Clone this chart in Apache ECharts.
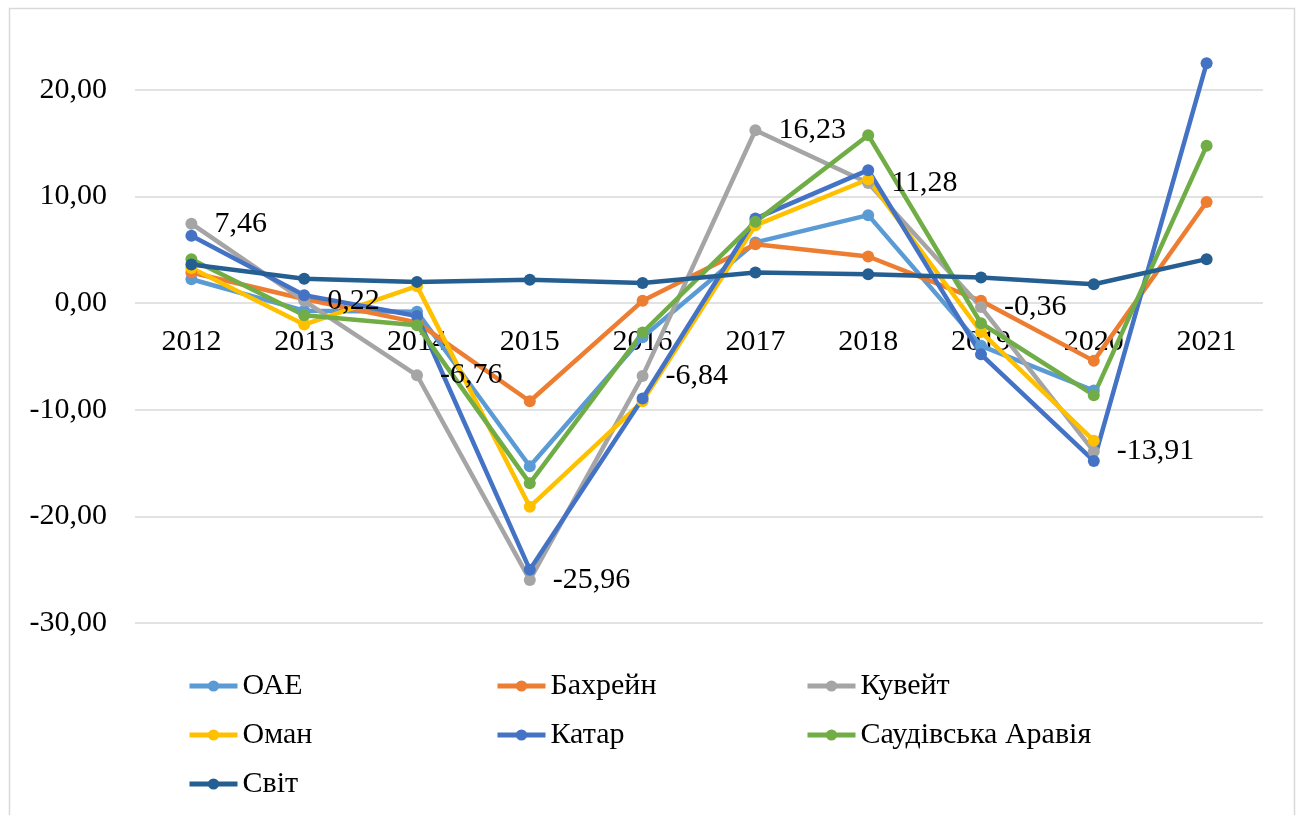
<!DOCTYPE html>
<html>
<head>
<meta charset="utf-8">
<script src="https://cdn.jsdelivr.net/npm/echarts@6/dist/echarts.min.js"></script>
<style>
  html, body { margin: 0; padding: 0; background: #fff; }
  #chart { width: 1299px; height: 815px; }
</style>
</head>
<body>
<div id="chart"></div>
<script>
// роки
const years = ['2012', '2013', '2014', '2015', '2016', '2017', '2018', '2019', '2020', '2021'];

// значення по країнах
const oae = [2.25, -0.7, -0.8, -15.3, -3.2, 5.7, 8.26, -4.0, -8.2, null];
const bahrain = [2.88, 0.4, -1.8, -9.2, 0.22, 5.53, 4.38, 0.22, -5.41, 9.5];
const kuwait = [7.46, 0.22, -6.76, -25.96, -6.84, 16.23, 11.28, -0.36, -13.91, null];
const oman = [3.3, -2.0, 1.6, -19.1, -9.2, 7.3, 11.63, -2.7, -12.9, null];
const qatar = [6.32, 0.75, -1.2, -25.0, -8.94, 7.94, 12.48, -4.8, -14.8, 22.5];
const saudi = [4.13, -1.13, -2.06, -16.9, -2.75, 7.63, 15.76, -1.88, -8.63, 14.76];
const world = [3.63, 2.3, 2.0, 2.19, 1.9, 2.88, 2.72, 2.41, 1.78, 4.13];

const names = ['ОАЕ', 'Бахрейн', 'Кувейт', 'Оман', 'Катар', 'Саудівська Аравія', 'Світ'];
const colors = ['#5B9BD5', '#ED7D31', '#A5A5A5', '#FFC000', '#4472C4', '#70AD47', '#255E91'];
const seriesData = [oae, bahrain, kuwait, oman, qatar, saudi, world];

const font = 'Liberation Serif';
const legendFont = 'Liberation Serif, DejaVu Serif';

function fmt(v) {
  return Number(v).toFixed(2).replace('.', ',');
}

const chart = echarts.init(document.getElementById('chart'));

// легенда в три колонки (шрифт через rich-текст)
function legendCol(data, left) {
  return {
    data: data,
    orient: 'vertical',
    left: left,
    top: 666,
    itemGap: 19,
    itemWidth: 48,
    itemHeight: 14,
    lineStyle: { width: 5 },
    formatter: '{t|{name}}',
    textStyle: {
      fontFamily: legendFont,
      fontSize: 30,
      color: '#000',
      rich: { t: { fontFamily: legendFont, fontSize: 30, color: '#000' } }
    }
  };
}

const series = names.map((name, i) => {
  const s = {
    name: name,
    type: 'line',
    data: seriesData[i],
    clip: false,
    symbol: 'circle',
    symbolSize: 12,
    showSymbol: true,
    color: colors[i],
    lineStyle: { width: 4.5, color: colors[i] },
    itemStyle: { color: colors[i] }
  };
  if (name === 'Кувейт') {
    s.label = {
      show: true,
      position: 'right',
      distance: 17,
      fontFamily: font,
      fontSize: 30,
      color: '#000',
      formatter: p => fmt(p.value)
    };
  }
  return s;
});

const option = {
  animation: false,
  backgroundColor: '#fff',
  graphic: [{
    type: 'rect',
    left: 7,
    top: 6,
    shape: { width: 1285, height: 840 },
    style: { fill: 'none', stroke: '#d9d9d9', lineWidth: 1.5 },
    silent: true,
    z: -10
  }],
  grid: { left: 135, right: 36, top: 90, bottom: 192 },
  legend: [
    legendCol(['ОАЕ', 'Оман', 'Світ'], 182),
    legendCol(['Бахрейн', 'Катар'], 490),
    legendCol(['Кувейт', 'Саудівська Аравія'], 800)
  ],
  xAxis: {
    type: 'category',
    data: years,
    boundaryGap: true,
    offset: -320,
    axisLine: { show: false, onZero: false },
    axisTick: { show: false },
    axisLabel: { fontFamily: font, fontSize: 30, color: '#000', margin: 24, interval: 0 },
    splitLine: { show: false }
  },
  yAxis: {
    type: 'value',
    min: -30,
    max: 20,
    interval: 10,
    axisLine: { show: false },
    axisTick: { show: false },
    axisLabel: { fontFamily: font, fontSize: 30, color: '#000', margin: 28, formatter: v => fmt(v) },
    splitLine: { lineStyle: { color: '#d9d9d9', width: 1.5 } }
  },
  series: series
};

chart.setOption(option);
</script>
</body>
</html>
